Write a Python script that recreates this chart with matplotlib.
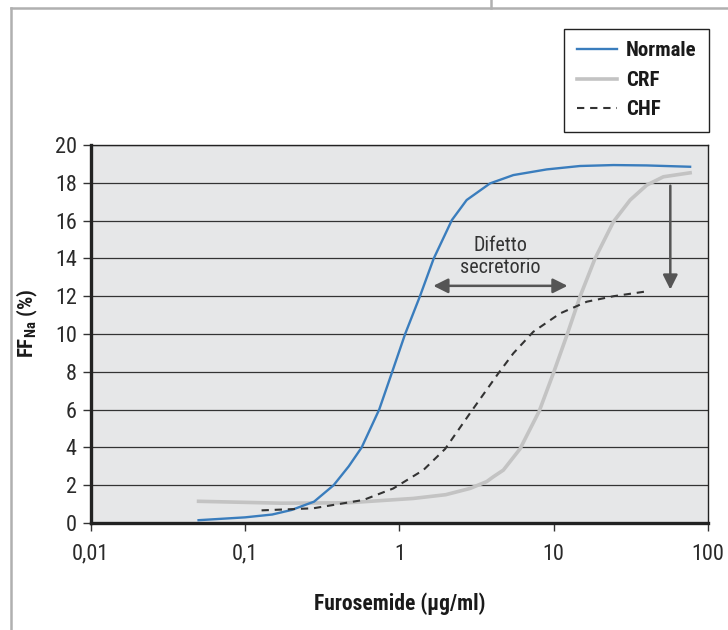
import matplotlib
matplotlib.use("Agg")
import matplotlib.pyplot as plt
from matplotlib import font_manager as fm
from matplotlib.lines import Line2D

# Values
normale_x = [0.05, 0.1, 0.15, 0.2, 0.28, 0.375, 0.47, 0.57, 0.74, 0.892, 1.09, 1.36,
             1.667, 2.19, 2.73, 3.87, 5.48, 9.02, 14.8, 24.4, 40.1, 76.6]
normale_y = [0.15, 0.3, 0.45, 0.69, 1.13, 2.0, 3.0, 4.0, 6.0, 7.92, 10.0, 12.0,
             13.98, 16.03, 17.09, 17.97, 18.41, 18.71, 18.89, 18.94, 18.92, 18.85]

crf_x = [0.05, 0.17, 0.46, 1.23, 2.0, 2.87, 3.68, 4.07, 4.72, 6.05, 8.07, 9.95,
         12.2, 14.8, 18.5, 24.4, 31.3, 40.1, 51.4, 76.6]
crf_y = [1.15, 1.05, 1.07, 1.3, 1.5, 1.83, 2.19, 2.45, 2.8, 3.92, 5.93, 7.92,
         9.95, 11.97, 13.98, 15.94, 17.09, 17.88, 18.32, 18.53]

chf_x = [0.128, 0.277, 0.585, 0.914, 1.43, 1.98, 2.94, 4.38, 5.48, 7.38, 11.0,
         16.4, 24.4, 41.1]
chf_y = [0.67, 0.78, 1.22, 1.83, 2.8, 3.92, 5.93, 7.92, 8.98, 10.12, 11.09,
         11.71, 12.0, 12.27]

series_labels = ["Normale", "CRF", "CHF"]
y_ticks = list(range(0, 21, 2))
x_ticks = [0.01, 0.1, 1, 10, 100]
x_tick_labels = ["0,01", "0,1", "1", "10", "100"]


def pick_narrow_font():
    names = {f.name for f in fm.fontManager.ttflist}
    for cand in ["Liberation Sans Narrow", "Roboto Condensed", "Open Sans Condensed",
                 "Arial Narrow"]:
        if cand in names:
            return cand, "normal"
    for f in fm.fontManager.ttflist:
        if f.name == "DejaVu Sans" and f.stretch in ("condensed", "semi-condensed"):
            return "DejaVu Sans", "condensed"
    if "Roboto" in names:
        return "Roboto", "normal"
    return "DejaVu Sans", "normal"


FAMILY, STRETCH = pick_narrow_font()
plt.rcParams["font.family"] = [FAMILY, "DejaVu Sans"]
plt.rcParams["font.stretch"] = STRETCH
plt.rcParams["mathtext.fontset"] = "custom"
plt.rcParams["mathtext.bf"] = FAMILY + ":bold"

BLUE = "#3a7dbd"
GRAY = "#c3c3c3"
DARK = "#333333"
ARROW = "#555555"

fig = plt.figure(figsize=(7.28, 6.30), dpi=100)
ax = fig.add_axes([0.1246, 0.1698, 0.8479, 0.6000])
ax.set_facecolor("#e6e7e8")

# outer page frame
fig.add_artist(Line2D([10.7 / 728, 1], [1 - 8 / 630, 1 - 8 / 630], color="#b0b0b0", lw=1.8,
                      transform=fig.transFigure))
fig.add_artist(Line2D([10.7 / 728, 10.7 / 728], [0, 1 - 8 / 630], color="#b0b0b0", lw=1.8,
                      transform=fig.transFigure))
fig.add_artist(Line2D([491 / 728, 491 / 728], [1 - 8 / 630, 1], color="#b0b0b0", lw=1.8,
                      transform=fig.transFigure))

ax.plot(normale_x, normale_y, color=BLUE, lw=1.7, label=series_labels[0], zorder=4)
ax.plot(crf_x, crf_y, color=GRAY, lw=2.6, label=series_labels[1], zorder=3)
ax.plot(chf_x, chf_y, color=DARK, lw=1.5, ls=(0, (3.5, 2.8)), label=series_labels[2], zorder=4)

ax.set_xscale("log")
ax.set_xlim(0.01, 100)
ax.set_ylim(0, 20)
ax.set_xticks(x_ticks)
ax.set_xticklabels(x_tick_labels)
ax.minorticks_off()
ax.set_yticks(y_ticks)
ax.grid(axis="y", color="#333333", lw=0.9)
ax.set_axisbelow(True)

ax.tick_params(axis="both", direction="out", length=6, width=1, color=DARK,
               labelsize=16, labelcolor="#2a2a2a")
ax.tick_params(axis="x", pad=9)
ax.tick_params(axis="y", pad=4)

for side in ["left", "bottom"]:
    ax.spines[side].set_linewidth(2.4)
    ax.spines[side].set_color("#222222")
for side in ["top", "right"]:
    ax.spines[side].set_linewidth(1.0)
    ax.spines[side].set_color("#222222")

ax.set_xlabel("Furosemide (\u03bcg/ml)", fontsize=15.5, fontweight="black", color="#1a1a1a",
              labelpad=20)
ax.set_ylabel(r"FF$_{\mathbf{Na}}$ (%)", fontsize=15, fontweight="black", color="#1a1a1a")
ax.yaxis.set_label_coords(-0.082, 0.529)

# annotations
ax.annotate("", xy=(57, 12.35), xytext=(57, 17.85),
            arrowprops=dict(arrowstyle="-|>", color=ARROW, lw=1.8, mutation_scale=22,
                            shrinkA=0, shrinkB=0))
ax.annotate("", xy=(1.66, 12.55), xytext=(12.3, 12.55),
            arrowprops=dict(arrowstyle="<|-|>", color=ARROW, lw=1.8, mutation_scale=22,
                            shrinkA=0, shrinkB=0))
ax.text(4.5, 14.1, "Difetto\nsecretorio", ha="center", va="center", fontsize=14.5,
        color="#333333", linespacing=1.15)

leg = fig.legend(loc="upper right", bbox_to_anchor=(709 / 728, 1 - 29 / 630),
                 borderaxespad=0, frameon=True, fancybox=False, edgecolor="#222222",
                 framealpha=1,
                 prop={"family": [FAMILY, "DejaVu Sans"], "stretch": STRETCH,
                       "weight": "black", "size": 15},
                 handlelength=1.9, labelspacing=0.5, borderpad=0.6, handletextpad=0.45)
leg.get_frame().set_linewidth(1.0)
for t in leg.get_texts():
    t.set_color("#1a1a1a")

fig.savefig("out.png", dpi=100)
